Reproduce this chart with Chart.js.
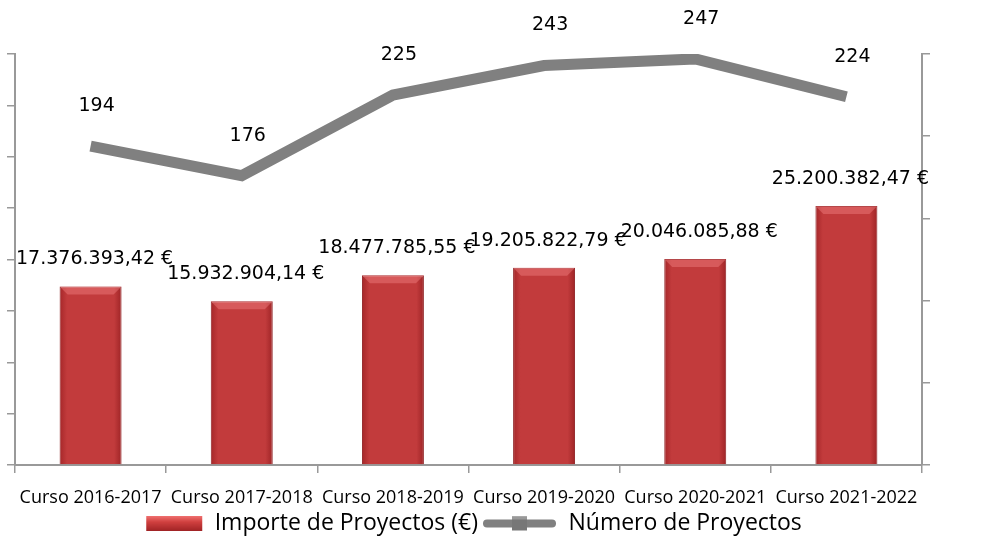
<!DOCTYPE html>
<html>
<head>
<meta charset="utf-8">
<script src="https://cdn.jsdelivr.net/npm/chart.js@4.4.0/dist/chart.umd.min.js"></script>
<style>
  html, body { margin: 0; padding: 0; background: #fff; }
  #wrap { width: 982px; height: 540px; position: relative; }
</style>
</head>
<body>
<div id="wrap"><canvas id="proyectos"></canvas></div>
<script>
const cursos = ["Curso 2016-2017", "Curso 2017-2018", "Curso 2018-2019", "Curso 2019-2020", "Curso 2020-2021", "Curso 2021-2022"];
const importes = [17376393.42, 15932904.14, 18477785.55, 19205822.79, 20046085.88, 25200382.47];
const numProyectos = [194, 176, 225, 243, 247, 224];
const importeAxis = { min: 0, max: 40000000, step: 5000000 };
const numeroAxis = { min: 0, max: 250, step: 50 };

const euro = v => v.toLocaleString("de-DE", { minimumFractionDigits: 2, maximumFractionDigits: 2 }) + " €";

// legend icons
function barIcon() {
  const c = document.createElement("canvas");
  c.width = 75; c.height = 15;
  const g = c.getContext("2d");
  const gr = g.createLinearGradient(0, 0, 0, 15);
  gr.addColorStop(0, "#f07070");
  gr.addColorStop(0.4, "#d0403f");
  gr.addColorStop(1, "#a02325");
  g.fillStyle = gr;
  g.fillRect(18, 0, 56, 15);
  return c;
}
function lineIcon() {
  const c = document.createElement("canvas");
  c.width = 75; c.height = 15;
  const g = c.getContext("2d");
  g.strokeStyle = "#808080";
  g.lineWidth = 8;
  g.lineCap = "round";
  g.beginPath(); g.moveTo(5, 7.5); g.lineTo(70, 7.5); g.stroke();
  g.fillStyle = "#777";
  g.fillRect(30, 0.5, 15, 14);
  g.fillStyle = "#999";
  g.fillRect(30, 0.5, 15, 3);
  return c;
}
const legendIcons = [barIcon(), lineIcon()];

function barFill(c) {
  const chart = c.chart;
  const xs = chart.scales.x;
  const x = xs ? xs.getPixelForValue(c.dataIndex) : NaN;
  if (x == null || isNaN(x)) return "#c0393b";
  const g = chart.ctx.createLinearGradient(x - 31, 0, x + 31, 0);
  g.addColorStop(0, "#a52729");
  g.addColorStop(0.12, "#c23b3c");
  g.addColorStop(0.88, "#c23b3c");
  g.addColorStop(1, "#9e2426");
  return g;
}

const valueLabels = {
  id: "valueLabels",
  afterDatasetsDraw(chart) {
    const ctx = chart.ctx;
    ctx.save();
    // bevel on top of bars
    chart.getDatasetMeta(0).data.forEach(bar => {
      const w = bar.width, l = bar.x - w / 2, r = bar.x + w / 2, t = bar.y;
      ctx.fillStyle = "rgba(255,150,150,0.35)";
      ctx.beginPath();
      ctx.moveTo(l, t); ctx.lineTo(r, t); ctx.lineTo(r - 8, t + 8); ctx.lineTo(l + 8, t + 8);
      ctx.closePath(); ctx.fill();
    });
    ctx.fillStyle = "#000";
    ctx.textAlign = "center";
    ctx.textBaseline = "middle";
    ctx.font = "19px 'DejaVu Sans'";
    chart.getDatasetMeta(0).data.forEach((bar, i) => {
      ctx.fillText(euro(importes[i]), bar.x + 4, bar.y - 27);
    });
    chart.getDatasetMeta(1).data.forEach((pt, i) => {
      ctx.fillText(String(numProyectos[i]), pt.x + 6, pt.y - 40);
    });
    ctx.restore();
  }
};

const ctx = document.getElementById("proyectos");

new Chart(ctx, {
  type: "bar",
  data: {
    labels: cursos,
    datasets: [
      {
        label: "Importe de Proyectos (€)",
        data: importes,
        yAxisID: "y",
        backgroundColor: barFill,
        borderColor: "#8e1f22",
        borderWidth: 1,
        categoryPercentage: 1,
        barPercentage: 0.41,
        order: 1
      },
      {
        type: "line",
        label: "Número de Proyectos",
        data: numProyectos,
        yAxisID: "y1",
        borderColor: "#808080",
        borderWidth: 11,
        borderJoinStyle: "miter",
        tension: 0,
        pointRadius: 0,
        pointHoverRadius: 0,
        order: 0
      }
    ]
  },
  options: {
    responsive: true,
    maintainAspectRatio: false,
    animation: false,
    layout: {
      padding: { left: 0, right: 52, top: 54, bottom: -5 }
    },
    plugins: {
      tooltip: { enabled: false },
      legend: {
        display: true,
        position: "bottom",
        labels: {
          color: "#000",
          font: { family: "'Open Sans'", size: 23 },
          usePointStyle: true,
          pointStyleWidth: 75,
          boxHeight: 15,
          padding: 4,
          generateLabels: chart => chart.data.datasets.map((ds, i) => ({
            text: ds.label,
            pointStyle: legendIcons[i],
            fillStyle: "#fff",
            strokeStyle: "#fff",
            lineWidth: 0,
            fontColor: "#000",
            datasetIndex: i,
            hidden: false
          }))
        }
      }
    },
    scales: {
      x: {
        offset: true,
        grid: {
          drawOnChartArea: false,
          color: "#999",
          tickLength: 8,
          lineWidth: 1.5
        },
        border: { color: "#999", width: 2 },
        ticks: {
          color: "#000",
          padding: 14,
          maxRotation: 0,
          autoSkip: false,
          font: { family: "'Open Sans'", size: 18 }
        },
        afterFit: s => { s.height = 43; }
      },
      y: {
        position: "left",
        min: importeAxis.min,
        max: importeAxis.max,
        ticks: { display: false, stepSize: importeAxis.step },
        grid: { drawOnChartArea: false, color: "#999", tickLength: 8, lineWidth: 1.5 },
        border: { color: "#999", width: 2 },
        afterFit: s => { s.width = 15; }
      },
      y1: {
        position: "right",
        min: numeroAxis.min,
        max: numeroAxis.max,
        ticks: { display: false, stepSize: numeroAxis.step },
        grid: { drawOnChartArea: false, color: "#999", tickLength: 8, lineWidth: 1.5 },
        border: { color: "#999", width: 2 },
        afterFit: s => { s.width = 8; }
      }
    }
  },
  plugins: [valueLabels]
});
</script>
</body>
</html>
